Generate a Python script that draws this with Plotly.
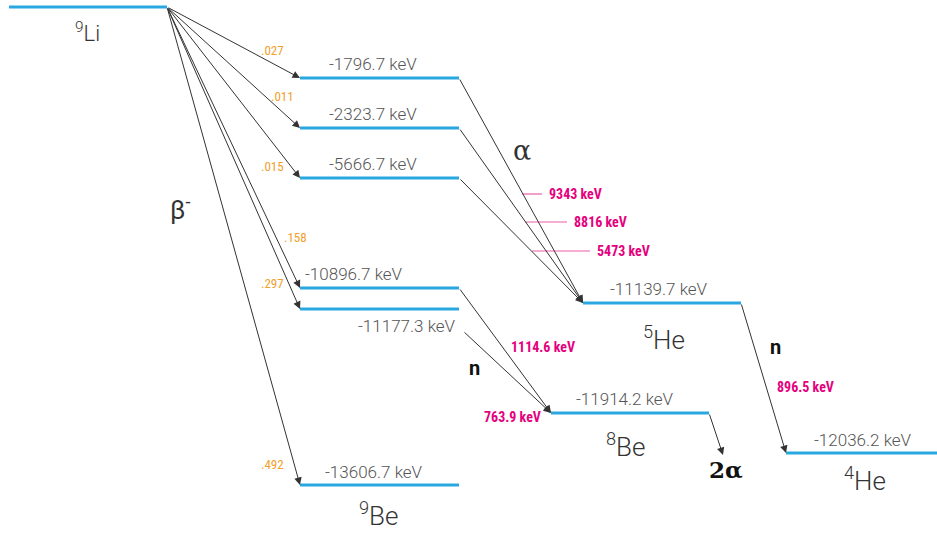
import plotly.graph_objects as go

# ---------------- data ----------------
parent_label = "<sup>9</sup>Li"
be9_label = "<sup>9</sup>Be"
he5_label = "<sup>5</sup>He"
be8_label = "<sup>8</sup>Be"
he4_label = "<sup>4</sup>He"
be9_levels_kev = [-1796.7, -2323.7, -5666.7, -10896.7, -11177.3, -13606.7]
branch_ratios = [0.027, 0.011, 0.015, 0.158, 0.297, 0.492]
alpha_kev = [9343, 8816, 5473]
he5_level_kev = -11139.7
be8_level_kev = -11914.2
he4_level_kev = -12036.2
be8_neutron_kev = [1114.6, 763.9]
he5_neutron_kev = 896.5
beta_label = "β<sup>-</sup>"
alpha_label = "α"
neutron_label = "n"
two_alpha_label = "2α"

# ---------------- diagram layout (drawing coordinates) ----------------
li_seg = (9, 167, 7)
be9_x = (300, 459)
be9_y = [78, 128, 178, 288, 309, 485]
he5_seg = (583, 741, 303)
be8_seg = (551, 709, 413)
he4_seg = (786, 937, 453)
be9_text_xy = [(373, 64), (373, 114), (373, 164), (354, 274), (407, 326), (374, 472)]
ratio_text_xy = [(272, 50), (282, 96), (272, 166), (295, 237), (272, 283), (272, 464)]
alpha_tick_x0 = [522, 525, 532]
alpha_tick_x1 = [542, 567, 590]
alpha_tick_y = [194, 222, 251]
n_be8_text_xy = [(543, 347), (512, 417)]

BLUE = "#29a8e0"
DARK = "#333333"
GRAY = "#555555"
ORANGE = "#f2a02d"
PINK = "#e5007e"
PINK_LINE = "#ec5fa6"
LIGHT = "Roboto, 'Open Sans', sans-serif"
GREEK = "'DejaVu Serif', serif"
COND = "'Liberation Sans Narrow', 'Roboto Condensed', 'DejaVu Sans Condensed', sans-serif"

fig = go.Figure()


def level(x0, x1, y):
    fig.add_trace(go.Scatter(x=[x0, x1], y=[y, y], mode="lines",
                             line=dict(color=BLUE, width=3),
                             hoverinfo="skip", showlegend=False))


def arrow(x0, y0, x1, y1, head=True):
    fig.add_annotation(x=x1, y=y1, ax=x0, ay=y0, xref="x", yref="y",
                       axref="x", ayref="y", text="", showarrow=True,
                       arrowhead=2 if head else 0, arrowsize=1.5,
                       arrowwidth=1, arrowcolor=DARK, standoff=0)


def label(x, y, text, size, color=GRAY, family=LIGHT, weight=300, xanchor="center"):
    fig.add_annotation(x=x, y=y, xref="x", yref="y", text=text, showarrow=False,
                       xanchor=xanchor, yanchor="middle",
                       font=dict(size=size, color=color, family=family, weight=weight))


# levels
level(*li_seg)
for y in be9_y:
    level(be9_x[0], be9_x[1], y)
level(*he5_seg)
level(*be8_seg)
level(*he4_seg)

# beta decay arrows
for y in be9_y:
    arrow(li_seg[1], li_seg[2], be9_x[0], y)

# alpha decays from the three highest 9Be levels to 5He
for y in be9_y[:3]:
    arrow(be9_x[1], y, he5_seg[0], he5_seg[2])

# neutron decays to 8Be
arrow(be9_x[1], be9_y[3], be8_seg[0], be8_seg[2])
arrow(463, 331, be8_seg[0], be8_seg[2])
# 5He -> 4He + n
arrow(he5_seg[1], he5_seg[2], he4_seg[0], he4_seg[2])
# 8Be -> 2 alpha
arrow(be8_seg[1], be8_seg[2], 723, 455)

# alpha energy ticks
for x0, x1, y, e in zip(alpha_tick_x0, alpha_tick_x1, alpha_tick_y, alpha_kev):
    fig.add_trace(go.Scatter(x=[x0, x1], y=[y, y], mode="lines",
                             line=dict(color=PINK_LINE, width=1.2),
                             hoverinfo="skip", showlegend=False))
    label(x1 + 5, y, f"{e} keV", 14, PINK, COND, 700, "left")

# level energy labels
for (x, y), e in zip(be9_text_xy, be9_levels_kev):
    label(x, y, f"{e:.1f} keV", 17)
label(659, 289, f"{he5_level_kev:.1f} keV", 17)
label(625, 399, f"{be8_level_kev:.1f} keV", 17)
label(863, 440, f"{he4_level_kev:.1f} keV", 17)

# branching ratios
for (x, y), r in zip(ratio_text_xy, branch_ratios):
    label(x, y, f"{r:.3f}"[1:], 13, ORANGE, COND, 400)

# neutron energies
for (x, y), e in zip(n_be8_text_xy, be8_neutron_kev):
    label(x, y, f"{e:.1f} keV", 14, PINK, COND, 700)
label(805, 387, f"{he5_neutron_kev:.1f} keV", 14, PINK, COND, 700)

# nuclide labels
label(87, 32, parent_label, 22, DARK)
label(378, 514, be9_label, 26, DARK)
label(664, 338, he5_label, 26, DARK)
label(625, 445, be8_label, 26, DARK)
label(865, 479, he4_label, 26, DARK)

# particle labels
label(180, 208, beta_label, 26, DARK, LIGHT, 400)
label(522, 150, alpha_label, 27, DARK, GREEK, 400)
label(474, 368, neutron_label, 20, "#111111", LIGHT, 700)
label(775, 347, neutron_label, 20, "#111111", LIGHT, 700)
label(726, 469, two_alpha_label, 23, "#111111", GREEK, 700)

fig.update_layout(
    width=937, height=534,
    margin=dict(l=0, r=0, t=0, b=0),
    paper_bgcolor="white", plot_bgcolor="white",
    xaxis=dict(range=[0, 937], visible=False, fixedrange=True),
    yaxis=dict(range=[534, 0], visible=False, fixedrange=True),
    showlegend=False,
)
fig.write_html(
    "out.html",
    config={"displayModeBar": False, "staticPlot": True},
    post_script="document.body.style.margin='0';document.body.style.overflow='hidden';",
)
